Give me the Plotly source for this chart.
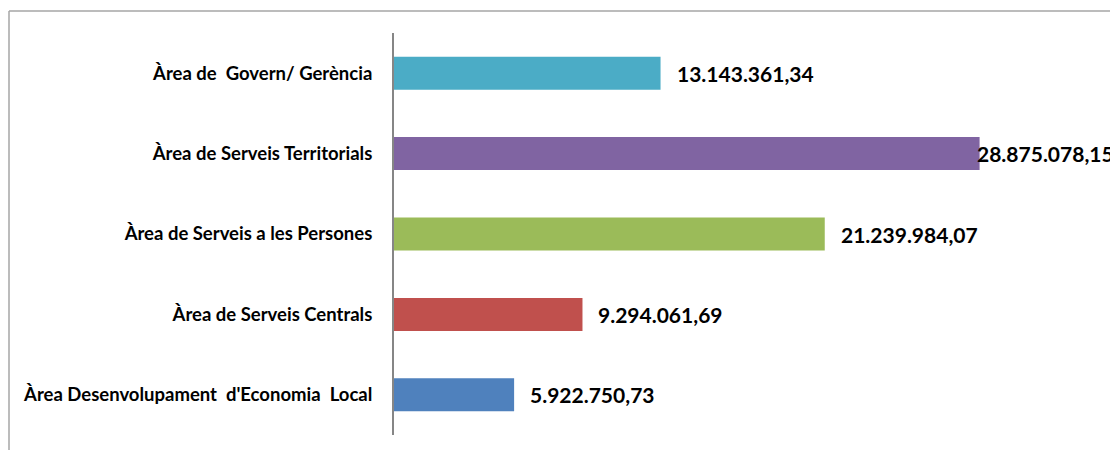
import plotly.graph_objects as go

categories = [
    "Àrea Desenvolupament\u00a0 d'Economia\u00a0 Local",
    "Àrea de Serveis Centrals",
    "Àrea de Serveis a les Persones",
    "Àrea de Serveis Territorials",
    "Àrea de\u00a0 Govern/ Gerència",
]
values = [5922750.73, 9294061.69, 21239984.07, 28875078.15, 13143361.34]
value_labels = ["5.922.750,73", "9.294.061,69", "21.239.984,07", "28.875.078,15", "13.143.361,34"]
colors = ["#4F81BD", "#C0504D", "#9BBB59", "#8064A2", "#4BACC6"]

OFF = 8  # default page body margin
W, H = 1118 - OFF, 450 - OFF
ML, MR, MT, MB = 394 - OFF, 10, 33 - OFF, 15
pw = W - ML - MR
ph = H - MT - MB
px_per_unit = 20.28 / 1e6
xmax = pw / px_per_unit
vmax = max(values)

fig = go.Figure(go.Bar(
    y=categories, x=values, orientation="h",
    marker=dict(color=colors, line=dict(width=0)),
    hoverinfo="skip",
))

for c, v, t in zip(categories, values, value_labels):
    shift = -5 if v == vmax else 14
    fig.add_annotation(x=v, y=c, text=f"<b>{t}</b>", showarrow=False,
                       xanchor="left", yanchor="middle", xshift=shift,
                       font=dict(family="Lato", size=21, color="black"))

# outer frame (left and top edges visible)
fl = (9 - OFF - ML) / pw
ft = 1 + (MT - (11 - OFF)) / ph
fig.add_shape(type="line", xref="paper", yref="paper", x0=fl, x1=fl, y0=ft, y1=-0.2,
              line=dict(color="#A6A6A6", width=1.5))
fig.add_shape(type="line", xref="paper", yref="paper", x0=fl, x1=1.2, y0=ft, y1=ft,
              line=dict(color="#A6A6A6", width=1.5))

fig.update_layout(
    width=W, height=H,
    margin=dict(l=ML, r=MR, t=MT, b=MB),
    paper_bgcolor="white", plot_bgcolor="white",
    bargap=0.59,
    showlegend=False,
    xaxis=dict(range=[0, xmax], showgrid=False, zeroline=False, showticklabels=False,
               showline=False, ticks=""),
    yaxis=dict(showgrid=False, zeroline=False, showline=True, linecolor="#868686",
               linewidth=2, ticks="", ticklabelstandoff=16,
               tickfont=dict(family="Lato", size=18.5, color="black", weight="bold")),
)

fig.write_html("out.html")
